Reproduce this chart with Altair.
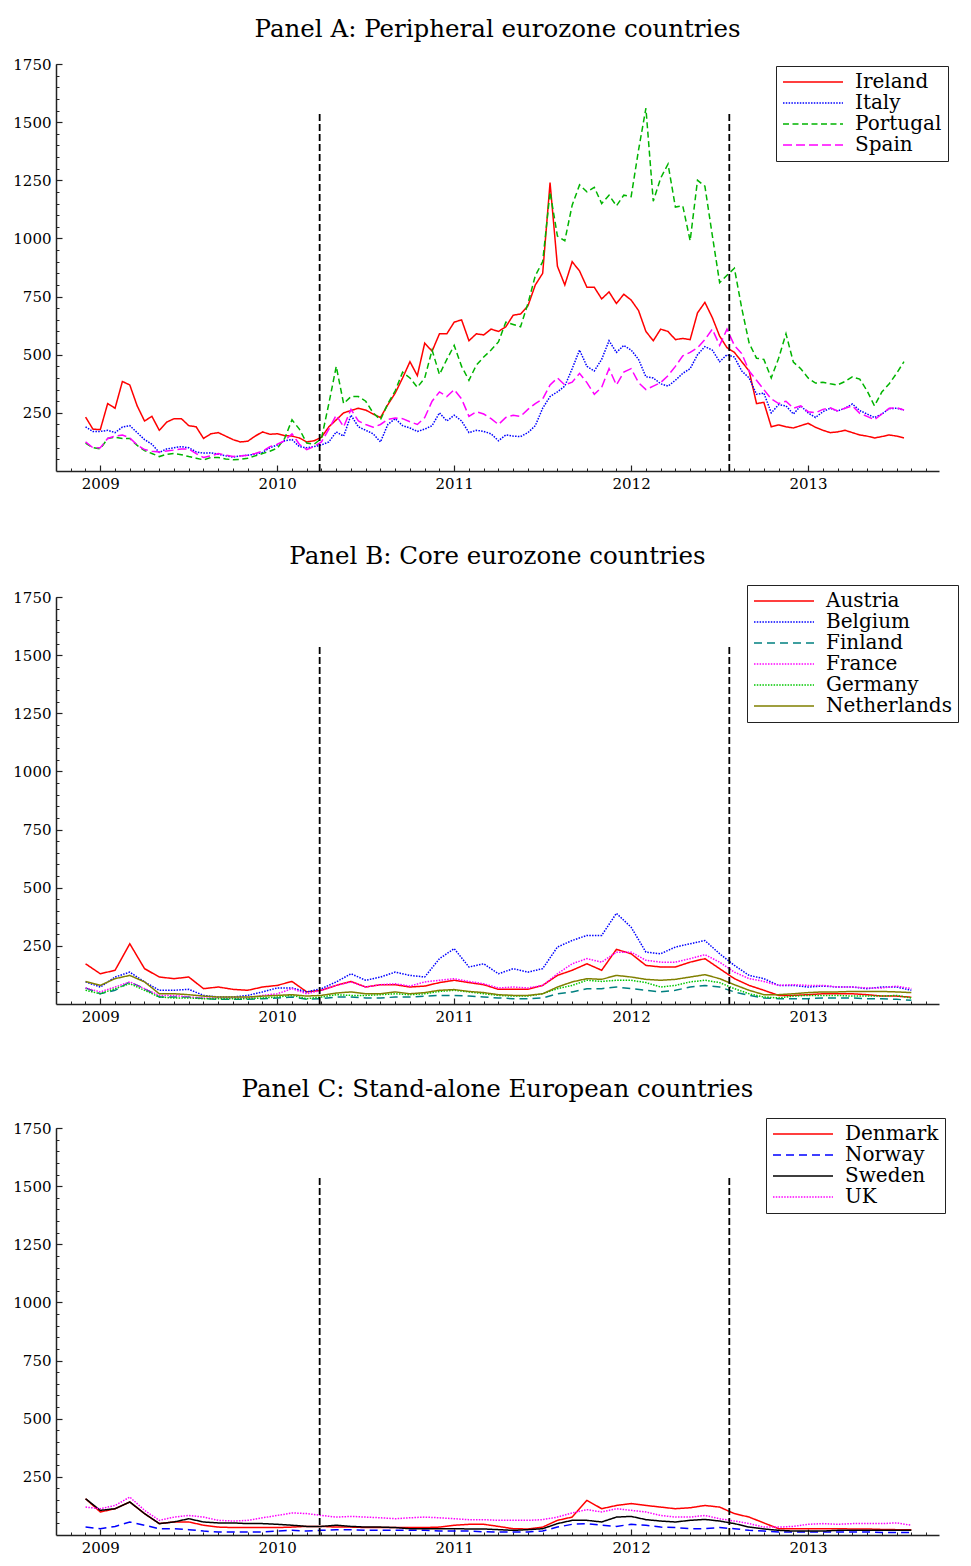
import altair as alt
import pandas as pd

FONT = "DejaVu Serif"

# ---------------- sampling dates (decimal years) ----------------
dates_a = [round(2008.917 + k / 24, 4) for k in range(112)]   # semi-monthly
dates_bc = [round(2008.917 + m / 12, 4) for m in range(57)]   # monthly

# ---------------- Panel A: peripheral eurozone ----------------
ireland = [232, 180, 178, 290, 270, 385, 370, 280, 215, 235,
           175, 210, 225, 225, 195, 190, 140, 160, 165, 150,
           135, 125, 128, 150, 168, 158, 160, 152, 150, 142,
           125, 130, 145, 190, 220, 250, 260, 270, 262, 245,
           230, 285, 335, 400, 470, 410, 550, 515, 590, 590,
           640, 650, 560, 590, 585, 610, 600, 620, 670, 675,
           710, 800, 850, 1240, 880, 800, 900, 860, 790, 790,
           740, 770, 720, 760, 735, 690, 600, 560, 610, 600,
           565, 570, 565, 680, 725, 660, 580, 530, 510, 470,
           430, 290, 295, 190, 198, 190, 185, 195, 205, 188,
           175, 165, 168, 175, 165, 155, 150, 142, 148, 155,
           150, 142]
italy = [190, 170, 170, 175, 165, 189, 195, 165, 135, 115,
         80, 95, 100, 105, 100, 82, 77, 78, 72, 65,
         60, 65, 68, 72, 80, 100, 112, 130, 135, 105,
         100, 105, 112, 125, 168, 150, 240, 190, 175, 160,
         125, 200, 225, 195, 185, 170, 180, 195, 250, 215,
         240, 215, 165, 175, 170, 160, 130, 155, 150, 148,
         165, 195, 270, 320, 340, 365, 440, 520, 450, 430,
         480, 560, 510, 540, 520, 480, 405, 400, 375, 365,
         390, 420, 440, 500, 535, 520, 470, 500, 490, 430,
         400, 330, 335, 250, 285, 280, 245, 280, 250, 230,
         255, 270, 258, 270, 288, 260, 245, 230, 245, 268,
         270, 262]
portugal = [120, 100, 95, 140, 145, 140, 140, 110, 88, 75,
            62, 72, 75, 70, 62, 55, 48, 58, 58, 52,
            48, 50, 55, 65, 75, 85, 98, 140, 220, 180,
            120, 115, 140, 290, 450, 290, 320, 320, 300, 250,
            220, 290, 345, 425, 400, 360, 400, 520, 415, 480,
            540, 450, 390, 455, 490, 520, 555, 640, 630, 620,
            720, 840, 900, 1200, 1010, 990, 1143, 1230, 1200, 1220,
            1150, 1186, 1140, 1186, 1180, 1380, 1560, 1160, 1259, 1320,
            1135, 1140, 990, 1250, 1225, 1014, 810, 842, 872, 700,
            550, 485, 480, 400, 485, 590, 468, 440, 400, 378,
            382, 375, 370, 385, 405, 395, 345, 280, 340, 375,
            420, 470]
spain = [125, 100, 100, 140, 150, 155, 142, 112, 92, 85,
         82, 86, 90, 95, 95, 75, 58, 65, 75, 68,
         62, 65, 68, 75, 85, 105, 115, 130, 160, 115,
         92, 105, 125, 180, 240, 190, 265, 215, 200, 188,
         200, 222, 228, 225, 212, 200, 230, 300, 340, 320,
         350, 310, 235, 255, 245, 225, 200, 230, 240, 235,
         265, 290, 310, 370, 400, 370, 382, 420, 380, 330,
         360, 440, 370, 425, 440, 380, 350, 365, 380, 410,
         450, 495, 510, 530, 565, 610, 540, 610, 540, 505,
         430, 390, 350, 310, 290, 300, 270, 280, 255, 250,
         265, 272, 258, 270, 280, 248, 235, 220, 245, 270,
         272, 262]

# ---------------- Panel B: core eurozone ----------------
austria = [173, 130, 145, 259, 152, 116, 109, 116, 66, 73,
           63, 59, 73, 80, 97, 52, 59, 80, 97, 73,
           83, 83, 73, 77, 92, 102, 92, 83, 63, 63,
           63, 80, 123, 145, 173, 145, 235, 216, 166, 159,
           159, 180, 195, 152, 109, 80, 59, 37, 37, 40,
           44, 44, 44, 40, 34, 34, 29]
belgium = [95, 73, 116, 137, 95, 59, 59, 63, 37, 30,
           30, 37, 52, 69, 69, 52, 66, 95, 130, 102,
           116, 137, 123, 116, 195, 238, 159, 173, 130, 152,
           137, 152, 245, 273, 295, 295, 390, 330, 223, 216,
           245, 259, 273, 216, 166, 123, 109, 80, 80, 73,
           77, 73, 73, 66, 73, 73, 59]
finland = [69, 44, 59, 95, 66, 30, 30, 30, 23, 20,
           20, 20, 23, 26, 30, 20, 23, 30, 30, 26,
           26, 30, 30, 34, 37, 37, 34, 30, 26, 23,
           23, 26, 44, 52, 66, 66, 73, 66, 59, 52,
           59, 73, 80, 73, 52, 37, 26, 23, 23, 23,
           26, 26, 26, 23, 23, 20, 16]
france = [69, 52, 73, 95, 66, 37, 37, 30, 26, 26,
          26, 26, 37, 44, 66, 44, 59, 80, 95, 73,
          83, 87, 77, 95, 102, 109, 97, 87, 69, 73,
          69, 80, 130, 173, 195, 180, 223, 223, 188, 180,
          180, 195, 212, 180, 137, 109, 97, 80, 83, 80,
          80, 73, 73, 69, 69, 77, 66]
germany = [59, 44, 66, 87, 59, 30, 26, 26, 23, 23,
           23, 23, 26, 30, 37, 23, 30, 40, 37, 37,
           40, 44, 40, 44, 54, 59, 52, 44, 37, 34,
           34, 44, 66, 80, 102, 97, 102, 102, 92, 73,
           80, 95, 102, 92, 66, 44, 30, 26, 34, 37,
           37, 37, 34, 34, 34, 37, 26]
netherlands = [97, 80, 109, 123, 95, 44, 44, 40, 34, 30,
               30, 30, 34, 37, 40, 34, 37, 47, 52, 44,
               44, 52, 44, 49, 59, 62, 54, 49, 40, 37,
               37, 44, 73, 95, 109, 106, 123, 116, 106, 102,
               106, 116, 126, 109, 83, 59, 40, 40, 44, 49,
               52, 52, 54, 54, 54, 52, 49]

# ---------------- Panel C: stand-alone European ----------------
denmark = [156, 99, 113, 142, 92, 49, 56, 56, 42, 34,
           32, 32, 32, 32, 34, 37, 37, 34, 34, 32,
           32, 32, 32, 32, 34, 42, 46, 46, 37, 27,
           26, 34, 63, 77, 149, 113, 127, 135, 127, 120,
           113, 117, 127, 120, 92, 77, 52, 27, 27, 27,
           27, 27, 26, 26, 24, 23, 23]
norway = [34, 27, 37, 56, 42, 27, 27, 23, 17, 13,
          13, 13, 13, 17, 20, 17, 20, 23, 23, 20,
          20, 20, 20, 20, 17, 17, 17, 14, 13, 13,
          13, 17, 34, 46, 49, 42, 37, 46, 42, 34,
          32, 27, 27, 32, 27, 20, 17, 13, 13, 13,
          13, 13, 13, 13, 11, 11, 11]
sweden = [156, 106, 113, 142, 92, 49, 56, 70, 56, 52,
          52, 49, 49, 46, 42, 37, 37, 42, 37, 34,
          34, 32, 27, 27, 27, 27, 26, 26, 23, 20,
          23, 27, 49, 63, 63, 56, 77, 80, 66, 60,
          56, 63, 67, 60, 49, 34, 26, 20, 17, 17,
          17, 20, 20, 20, 20, 20, 20]
uk = [120, 113, 127, 163, 106, 63, 77, 84, 77, 63,
      60, 63, 74, 84, 95, 92, 84, 77, 80, 77,
      74, 70, 74, 77, 74, 70, 66, 66, 63, 63,
      63, 66, 77, 95, 109, 99, 113, 106, 99, 84,
      77, 77, 84, 70, 60, 49, 34, 34, 37, 46,
      49, 46, 49, 49, 49, 52, 42]

# ---------------- axes / events ----------------
x_domain = [2008.75, 2013.74]
year_ticks = [2009, 2010, 2011, 2012, 2013]
month_ticks = [round(2008.8333 + i / 12, 4) for i in range(59)]
y_major = [250, 500, 750, 1000, 1250, 1500, 1750]
y_minor = list(range(50, 1751, 50))
event_dates = [2010.24, 2012.555]
event_top = 1540

W, H = 883, 407

SOLID = [1, 0]
DOT = [1.5, 1.3]


def panel(dates, series, names, colors, dashes, title, lx, ly):
    df = pd.DataFrame({
        "t": dates * len(names),
        "v": [v for s in series for v in s],
        "country": [n for n in names for _ in dates],
    })
    xs = alt.Scale(domain=x_domain, nice=False, zero=False)
    ys = alt.Scale(domain=[0, 1750], nice=False)
    leg = alt.Legend(title=None, orient="none", legendX=lx, legendY=ly)
    lines = alt.Chart(df).mark_line(strokeWidth=1.5, clip=True).encode(
        x=alt.X("t:Q", scale=xs, axis=alt.Axis(
            orient="bottom", values=year_ticks, format="d", ticks=False,
            grid=False, title=None, labelFont=FONT, labelFontSize=15,
            labelColor="black", labelPadding=5, domainColor="#222",
            domainWidth=1.5)),
        y=alt.Y("v:Q", scale=ys, axis=alt.Axis(
            orient="left", values=y_major, format="d", ticks=False, grid=False,
            title=None, labelFont=FONT, labelFontSize=15, labelColor="black",
            labelPadding=5, domainColor="#222", domainWidth=1.5)),
        color=alt.Color("country:N", scale=alt.Scale(domain=names, range=colors), legend=leg),
        strokeDash=alt.StrokeDash("country:N", scale=alt.Scale(domain=names, range=dashes), legend=leg),
    )
    ev = pd.DataFrame({"t": event_dates, "y0": [0] * len(event_dates),
                       "y1": [event_top] * len(event_dates)})
    rules = alt.Chart(ev).mark_rule(color="black", strokeDash=[7, 3], strokeWidth=1.8).encode(
        x=alt.X("t:Q", scale=xs, axis=alt.Axis(
            orient="top", offset=-H, values=year_ticks, labels=False,
            domain=False, tickSize=6, tickColor="#222", tickWidth=1.2,
            grid=False, title=None)),
        y=alt.Y("y0:Q", scale=ys, axis=alt.Axis(
            orient="right", offset=-W, values=y_major, labels=False,
            domain=False, tickSize=6, tickColor="#222", tickWidth=1.2,
            grid=False, title=None)),
        y2="y1:Q",
    )
    minor = alt.Chart(ev).mark_rule(opacity=0).encode(
        x=alt.X("t:Q", scale=xs, axis=alt.Axis(
            orient="top", offset=-H, values=month_ticks, labels=False,
            domain=False, tickSize=3, tickColor="#222", tickWidth=1,
            grid=False, title=None)),
        y=alt.Y("y0:Q", scale=ys, axis=alt.Axis(
            orient="right", offset=-W, values=y_minor, labels=False,
            domain=False, tickSize=3, tickColor="#222", tickWidth=1,
            grid=False, title=None)),
        y2="y1:Q",
    )
    return alt.layer(lines, rules, minor).resolve_axis(
        x="independent", y="independent"
    ).properties(
        width=W, height=H,
        title=alt.TitleParams(title, font=FONT, fontSize=24.5, fontWeight="normal",
                              color="black", anchor="middle", offset=15),
    )


pA = panel(dates_a, [ireland, italy, portugal, spain],
           ["Ireland", "Italy", "Portugal", "Spain"],
           ["#ff0000", "#0000ff", "#00b400", "#ff00ff"],
           [SOLID, DOT, [6, 3.5], [9, 4]],
           "Panel A: Peripheral eurozone countries", 720, 2)

pB = panel(dates_bc, [austria, belgium, finland, france, germany, netherlands],
           ["Austria", "Belgium", "Finland", "France", "Germany", "Netherlands"],
           ["#ff0000", "#0000ff", "#008080", "#ff00ff", "#00c800", "#808000"],
           [SOLID, DOT, [8, 5], DOT, DOT, SOLID],
           "Panel B: Core eurozone countries", 691, -12)

pC = panel(dates_bc, [denmark, norway, sweden, uk],
           ["Denmark", "Norway", "Sweden", "UK"],
           ["#ff0000", "#0000ff", "#000000", "#ff00ff"],
           [SOLID, [8, 5], SOLID, DOT],
           "Panel C: Stand-alone European countries", 710, -10)

chart = alt.vconcat(pA, pB, pC, spacing=53).resolve_scale(
    color="independent", strokeDash="independent"
).properties(
    padding={"left": 4, "top": 8, "right": 0, "bottom": 0}
).configure_view(stroke=None).configure_legend(
    labelFont=FONT, labelFontSize=20, labelColor="black", labelLimit=400,
    symbolType="M-1,0H5.67", symbolSize=324, symbolStrokeWidth=1.5,
    labelOffset=53, rowPadding=1, padding=6, strokeColor="#222",
    fillColor="white", symbolOffset=0, cornerRadius=0,
)

chart.save("out.html", embed_options={"renderer": "svg", "actions": False})
